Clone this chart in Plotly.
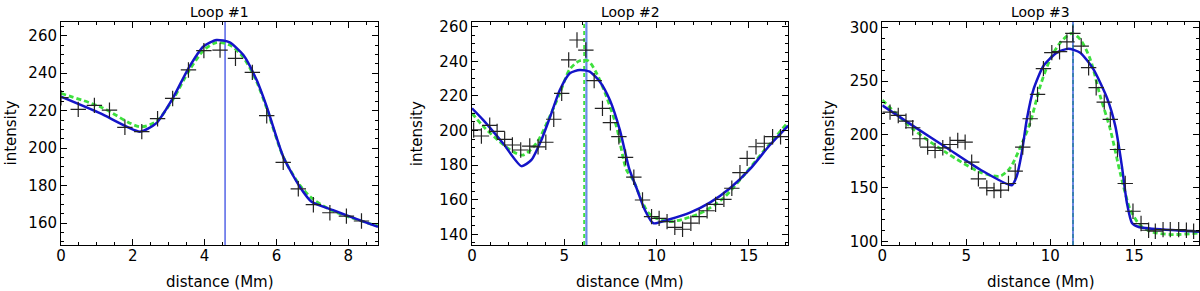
import plotly.graph_objects as go

# ---------------- data ----------------
# Loop 1
l1_x_obs = [0.0, 0.48, 0.93, 1.35, 1.78, 2.25, 2.69, 3.11, 3.55, 3.98, 4.43, 4.86, 5.33, 5.73, 6.19, 6.61, 7.03, 7.49, 7.95, 8.37]
l1_y_obs = [226.9, 220.7, 222.8, 220.3, 211.1, 208.8, 215.7, 226.5, 241.7, 252.0, 252.3, 247.9, 240.4, 217.3, 192.4, 178.3, 169.8, 165.5, 163.7, 161.1]
l1_x_fit = [0.0, 1.1, 2.2, 2.65, 3.11, 3.55, 3.96, 4.33, 4.70, 5.08, 5.45, 5.73, 6.19, 6.65, 6.98, 7.58, 8.05, 8.83]
l1_y_fit = [227.4, 218.5, 208.8, 213.2, 226.5, 242.6, 254.1, 257.7, 256.4, 249.7, 236.3, 222.1, 195.4, 179.4, 171.4, 166.9, 163.4, 158.0]
l1_x_alt = [0.0, 1.09, 2.2, 2.65, 3.11, 3.55, 3.98, 4.33, 4.70, 5.08, 5.45, 5.73, 6.19, 6.65, 7.03, 7.58, 8.83]
l1_y_alt = [229.2, 222.1, 211.4, 214.2, 225.7, 240.8, 252.3, 256.3, 255.0, 248.4, 235.4, 221.2, 195.4, 180.3, 172.6, 166.4, 158.4]
l1_mark = 4.57

# Loop 2
l2_x_obs = [0.09, 0.51, 0.96, 1.36, 1.77, 2.19, 2.64, 3.13, 3.58, 4.00, 4.43, 4.86, 5.24, 5.69, 6.17, 6.62, 7.07, 7.50, 7.96, 8.32,
            8.77, 9.24, 9.73, 10.14, 10.57, 10.99, 11.41, 11.86, 12.31, 12.74, 13.20, 13.65, 14.08, 14.52, 14.91, 15.39, 15.84, 16.29, 16.72]
l2_y_obs = [200.3, 196.8, 203.0, 199.5, 194.9, 191.6, 188.7, 191.0, 190.5, 193.2, 206.5, 221.5, 240.8, 252.3, 246.5, 228.8, 212.8, 204.5, 196.4, 184.5,
            173.0, 159.8, 150.2, 149.2, 147.3, 144.0, 142.9, 146.4, 150.2, 153.6, 157.3, 160.2, 166.6, 175.6, 183.9, 190.6, 192.6, 196.4, 196.4]
l2_x_fit = [0.0, 0.6, 1.68, 2.68, 3.22, 3.76, 4.30, 4.76, 5.30, 5.84, 6.38, 6.93, 7.47, 8.01, 8.52, 8.92, 9.37, 9.82, 10.72, 11.81, 12.89, 13.98, 15.06, 16.14, 17.14]
l2_y_fit = [212.8, 206.1, 192.6, 179.4, 183.0, 194.5, 209.9, 223.4, 233.1, 235.0, 234.0, 228.2, 217.6, 200.3, 177.8, 166.6, 154.0, 146.4, 148.7, 152.5, 158.3, 166.6, 177.6, 191.6, 202.8]
l2_x_alt = [0.0, 0.6, 1.4, 2.23, 2.77, 3.49, 4.21, 4.76, 5.30, 5.84, 6.29, 6.75, 7.29, 7.83, 8.37, 8.73, 9.19, 9.55, 10.0, 10.72, 11.44, 12.53, 13.61, 14.70, 15.78, 17.14]
l2_y_alt = [210.0, 202.5, 194.5, 187.7, 185.8, 192.6, 208.0, 221.5, 235.4, 240.3, 240.3, 233.1, 219.5, 202.2, 177.2, 171.4, 159.8, 152.5, 149.2, 147.3, 148.7, 153.0, 160.8, 173.7, 187.7, 205.0]
l2_mark = 6.2
l2_mark_alt = 6.08

# Loop 3
l3_x_obs = [0.46, 0.95, 1.41, 1.81, 2.24, 2.70, 3.14, 3.60, 4.03, 4.49, 4.93, 5.32, 5.72, 6.22, 6.65, 7.05, 7.51, 7.91, 8.36, 8.80,
            9.24, 9.59, 10.09, 10.55, 10.99, 11.34, 11.84, 12.28, 12.73, 13.21, 13.57, 14.00, 14.46, 14.92, 15.40, 15.85, 16.25, 16.71,
            17.14, 17.64, 18.10, 18.53]
l3_y_obs = [220.9, 217.8, 212.5, 206.3, 196.0, 188.1, 185.0, 187.5, 190.6, 194.4, 192.8, 174.1, 158.4, 150.0, 147.5, 147.8, 154.1, 165.6, 188.1, 214.7,
            237.5, 261.6, 276.6, 277.5, 286.6, 294.7, 282.8, 262.5, 243.8, 230.3, 214.1, 185.9, 154.1, 128.1, 116.6, 110.3, 109.4, 110.9,
            110.9, 110.9, 110.3, 109.4]
l3_x_fit = [0.0, 1.85, 3.83, 5.82, 7.71, 8.0, 8.3, 8.60, 9.0, 9.59, 10.39, 11.08, 11.78, 12.57, 13.37, 13.87, 14.26, 14.56, 14.86, 15.26, 16.75, 18.85]
l3_y_fit = [227.2, 207.8, 187.5, 167.2, 152.5, 160.9, 182.8, 214.1, 242.2, 264.1, 276.6, 280.3, 276.6, 260.9, 234.4, 207.8, 170.3, 135.9, 117.2, 113.4, 110.9, 108.8]
l3_x_alt = [0.0, 1.85, 3.83, 5.82, 7.01, 7.61, 8.20, 8.80, 9.40, 9.99, 10.59, 11.28, 11.78, 12.38, 12.97, 13.57, 14.16, 14.76, 15.36, 16.15, 17.34, 18.85]
l3_y_alt = [232.2, 204.7, 182.8, 164.7, 161.0, 168.8, 187.5, 210.9, 245.3, 270.3, 285.9, 294.7, 289.1, 270.3, 235.9, 204.7, 164.1, 129.7, 114.7, 108.4, 106.3, 107.8]
l3_mark = 11.35

titles = ["Loop #1", "Loop #2", "Loop #3"]
x_ranges = [[0, 8.83], [0, 17.14], [0, 18.85]]
y_ranges = [[148.3, 267.3], [133.8, 262.7], [96.5, 305.3]]
x_dticks = [2, 5, 5]
x_minor = [0.5, 1, 1]
y_dticks = [20, 20, 50]
y_minor = [5, 5, 10]

# ---------------- figure ----------------
W, H = 1200, 291
ML, MR, MT, MB = 61, 1, 22, 46
PW = W - ML - MR
pix_domains = [(61, 378), (472, 788.3), (882.3, 1199)]
domains = [[(a - ML) / PW, (b - ML) / PW] for a, b in pix_domains]

FONT = "DejaVu Sans"
BLUE = "#1414c8"
GREEN = "#3ee03e"

panels = [
    (l1_x_obs, l1_y_obs, l1_x_fit, l1_y_fit, l1_x_alt, l1_y_alt, [l1_mark], []),
    (l2_x_obs, l2_y_obs, l2_x_fit, l2_y_fit, l2_x_alt, l2_y_alt, [l2_mark], [l2_mark_alt]),
    (l3_x_obs, l3_y_obs, l3_x_fit, l3_y_fit, l3_x_alt, l3_y_alt, [l3_mark], [l3_mark]),
]
mark_colors = ["#2a3ee0", "#6a8ce8", "#3a60d8"]
mark_widths = [1.2, 2.2, 1.5]

fig = go.Figure()
for i, (xo, yo, xf, yf, xa, ya, marks, marks_alt) in enumerate(panels):
    xa_name = "x" if i == 0 else f"x{i+1}"
    ya_name = "y" if i == 0 else f"y{i+1}"
    yr = y_ranges[i]
    for m in marks_alt:
        fig.add_trace(go.Scatter(x=[m, m], y=yr, mode="lines", xaxis=xa_name, yaxis=ya_name,
                                 line=dict(color=GREEN, width=2, dash="4px,3px"), showlegend=False, hoverinfo="skip"))
    for m in marks:
        fig.add_trace(go.Scatter(x=[m, m], y=yr, mode="lines", xaxis=xa_name, yaxis=ya_name,
                                 line=dict(color=mark_colors[i], width=mark_widths[i]), showlegend=False, hoverinfo="skip"))
    fig.add_trace(go.Scatter(x=xa, y=ya, mode="lines", xaxis=xa_name, yaxis=ya_name,
                             line=dict(color=GREEN, width=2.8, dash="5px,3px", shape="spline", smoothing=0.8),
                             showlegend=False))
    fig.add_trace(go.Scatter(x=xf, y=yf, mode="lines", xaxis=xa_name, yaxis=ya_name,
                             line=dict(color=BLUE, width=2.5, shape="spline", smoothing=0.6),
                             showlegend=False))
    fig.add_trace(go.Scatter(x=xo, y=yo, mode="markers", xaxis=xa_name, yaxis=ya_name,
                             marker=dict(symbol="cross-thin-open", size=11, color="#222222",
                                         line=dict(color="#222222", width=1.2)),
                             showlegend=False))

    axis_common = dict(showline=True, linecolor="black", linewidth=1, mirror="allticks",
                       ticks="inside", ticklen=6, tickcolor="black", tickwidth=1,
                       showgrid=False, zeroline=False,
                       tickfont=dict(family=FONT, size=15, color="black"))
    xkey = "xaxis" if i == 0 else f"xaxis{i+1}"
    ykey = "yaxis" if i == 0 else f"yaxis{i+1}"
    fig.layout[xkey] = dict(axis_common, domain=domains[i], range=x_ranges[i], anchor=ya_name,
                            dtick=x_dticks[i], tick0=0, ticklabelstandoff=-3,
                            minor=dict(dtick=x_minor[i], ticklen=3, ticks="inside", tickcolor="black", showgrid=False))
    fig.layout[ykey] = dict(axis_common, domain=[0, 1], range=yr, anchor=xa_name,
                            dtick=y_dticks[i], tick0=0,
                            minor=dict(dtick=y_minor[i], ticklen=3, ticks="inside", tickcolor="black", showgrid=False))

    cx = (domains[i][0] + domains[i][1]) / 2
    fig.add_annotation(text=titles[i], xref="paper", yref="paper", x=cx, y=1,
                       xanchor="center", yanchor="middle", yshift=10,
                       showarrow=False, font=dict(family=FONT, size=14, color="black"))
    fig.add_annotation(text="distance (Mm)", xref="paper", yref="paper", x=cx, y=0,
                       xanchor="center", yanchor="middle", yshift=-37,
                       showarrow=False, font=dict(family=FONT, size=15, color="black"))

# y titles (target pixel centers)
ytitle_px = [10, 416.7, 828]
for px in ytitle_px:
    fig.add_annotation(text="intensity", xref="paper", yref="paper", x=(px - ML) / PW, y=0.5,
                       xanchor="center", yanchor="middle",
                       textangle=-90, showarrow=False, font=dict(family=FONT, size=15, color="black"))

fig.update_layout(width=W, height=H, margin=dict(l=ML, r=MR, t=MT, b=MB),
                  paper_bgcolor="white", plot_bgcolor="white")

# remove the browser's default 8px page margin so the figure fills the window exactly
fig.write_html("out.html",
               config={"displayModeBar": False},
               post_script="document.body.style.margin='0';document.body.style.padding='0';")
